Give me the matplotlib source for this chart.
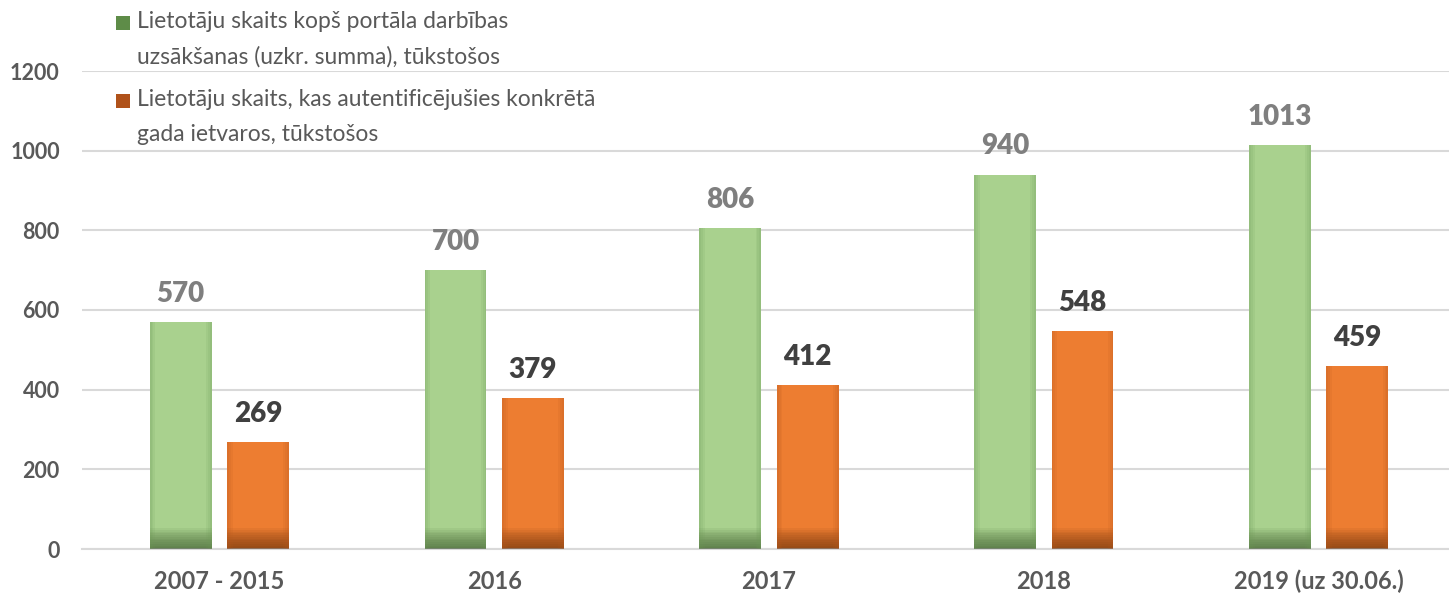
import matplotlib
matplotlib.use("Agg")
import matplotlib.pyplot as plt
import numpy as np
from matplotlib.patches import Rectangle

categories = ["2007 - 2015", "2016", "2017", "2018", "2019 (uz 30.06.)"]
cumulative = [570, 700, 806, 940, 1013]
yearly = [269, 379, 412, 548, 459]
legend_labels = ["Lietotāju skaits kopš portāla darbības\nuzsākšanas (uzkr. summa), tūkstošos",
                 "Lietotāju skaits, kas autentificējušies konkrētā\ngada ietvaros, tūkstošos"]

FAM = ["Lato", "Open Sans", "DejaVu Sans"]
plt.rcParams['font.family'] = FAM

W, H = 1449, 593
fig = plt.figure(figsize=(W / 100, H / 100), dpi=100)
ax = fig.add_axes([82 / W, 44 / H, (1456 - 82) / W, (549 - 71) / H])

x = np.arange(len(categories))
w = 0.225
off = 0.141
green = "#A9D18E"
orange = "#ED7D31"

ax.bar(x - off, cumulative, w, color=green, zorder=2)
ax.bar(x + off, yearly, w, color=orange, zorder=2)

# bottom shading (darker base)
nsteps = 12
for i in range(nsteps):
    h = 52 * (1 - i / nsteps)
    ax.bar(x - off, [h] * len(x), w, color="#2F4A20", alpha=0.065, zorder=3, linewidth=0)
    ax.bar(x + off, [h] * len(x), w, color="#5A2A08", alpha=0.065, zorder=3, linewidth=0)
# side shading
for xs, vals, c in [(x - off, cumulative, "#6E9A58"), (x + off, yearly, "#B85A1E")]:
    for k in range(3):
        ww = w * 0.03 * (3 - k)
        ax.bar(xs - w / 2 + ww / 2, vals, ww, color=c, alpha=0.12, zorder=3, linewidth=0)
        ax.bar(xs + w / 2 - ww / 2, vals, ww, color=c, alpha=0.12, zorder=3, linewidth=0)

for xi, v in zip(x, cumulative):
    ax.annotate(str(v), (xi - off, v), xytext=(0, 14.5), textcoords="offset points",
                ha="center", va="baseline", fontsize=20, fontweight="heavy", color="#7F7F7F")
for xi, v in zip(x, yearly):
    ax.annotate(str(v), (xi + off, v), xytext=(0, 14.5), textcoords="offset points",
                ha="center", va="baseline", fontsize=20, fontweight="heavy", color="#404040")

ax.set_ylim(0, 1200)
ax.set_xlim(-0.5, 4.5)
ax.set_yticks(range(0, 1201, 200))
ax.set_xticks(x)
ax.set_xticklabels(categories)
for lab in ax.get_xticklabels():
    lab.set_fontweight("bold")
    lab.set_color("#595959")
    lab.set_fontsize(17)
for lab in ax.get_yticklabels():
    lab.set_fontweight("bold")
    lab.set_color("#595959")
    lab.set_fontsize(15.5)
ax.tick_params(axis="both", length=0)
ax.tick_params(axis="y", pad=16)
ax.tick_params(axis="x", pad=15)
ax.grid(axis="y", color="#D9D9D9", linewidth=1.5, zorder=0)
ax.set_axisbelow(True)
for s in ["top", "right", "left"]:
    ax.spines[s].set_visible(False)
ax.spines["bottom"].set_color("#D9D9D9")
ax.spines["bottom"].set_linewidth(1.5)

# legend (manual, marker aligned to first line)
leg_colors = ["#5E8C48", "#B0521A"]
leg_tops = [16, 94]
for lbl, col, top in zip(legend_labels, leg_colors, leg_tops):
    fig.patches.append(Rectangle((116 / W, 1 - (top + 14) / H), 14 / W, 14 / H,
                                 transform=fig.transFigure, facecolor=col, edgecolor="none"))
    fig.text(137 / W, 1 - (top - 5) / H, lbl, ha="left", va="top", fontsize=16.5,
             color="#595959", linespacing=1.8)

fig.savefig("out.png", dpi=100)
